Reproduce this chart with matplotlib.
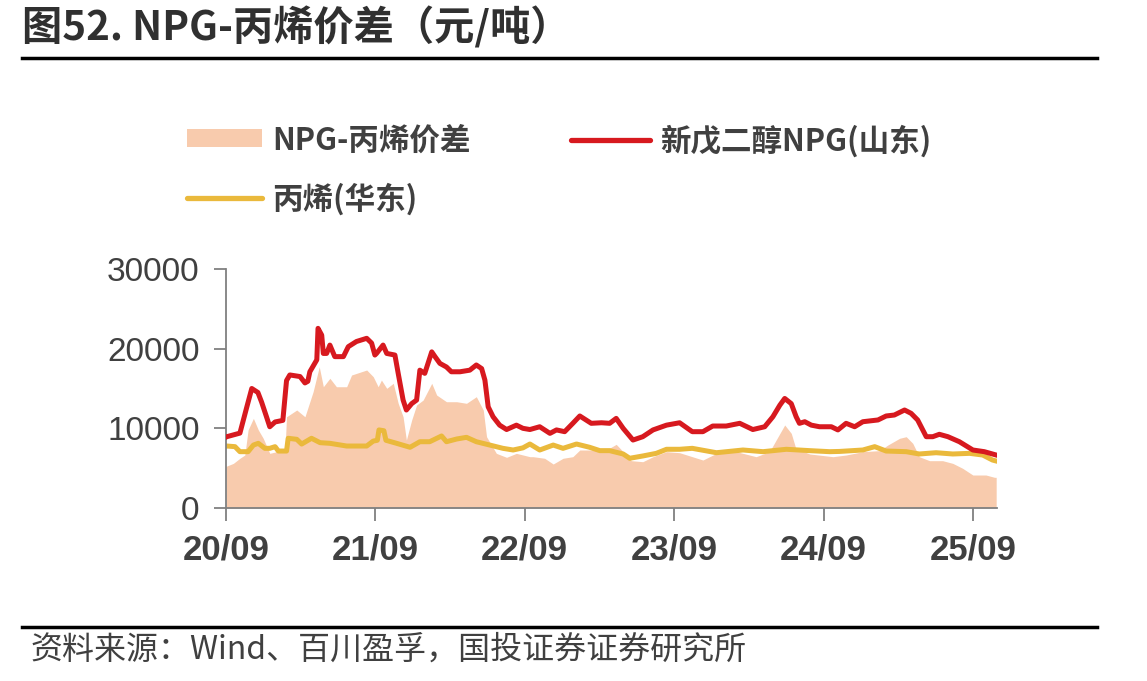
import numpy as np
import pandas as pd
import matplotlib
matplotlib.use("Agg")
import matplotlib.pyplot as plt
import matplotlib.dates as mdates
from matplotlib.patches import Rectangle
from matplotlib.lines import Line2D

plt.rcParams['font.family'] = ['Noto Sans CJK SC', 'DejaVu Sans']

# ---------------- data ----------------
npg_dates = ["2020-09-01", "2020-09-03", "2020-10-05", "2020-10-22", "2020-11-03", "2020-11-18", "2020-11-27",
             "2020-12-09", "2020-12-17", "2020-12-30", "2021-01-18", "2021-01-27", "2021-02-04",
             "2021-03-01", "2021-03-13", "2021-03-20", "2021-03-25", "2021-04-11", "2021-04-14",
             "2021-04-23", "2021-04-27", "2021-05-05", "2021-05-13", "2021-05-25", "2021-06-15",
             "2021-06-27", "2021-07-17", "2021-08-11", "2021-08-23", "2021-08-31", "2021-09-04",
             "2021-09-20", "2021-09-29", "2021-10-19", "2021-10-27", "2021-11-08", "2021-11-16",
             "2021-11-29", "2021-12-11", "2021-12-19", "2021-12-31", "2022-01-17", "2022-01-25",
             "2022-02-06", "2022-02-22", "2022-03-06", "2022-03-27", "2022-04-20", "2022-05-06",
             "2022-05-19", "2022-05-27", "2022-06-04", "2022-06-16", "2022-07-02", "2022-07-19",
             "2022-08-12", "2022-08-28", "2022-09-14", "2022-10-08", "2022-11-02", "2022-11-18",
             "2022-12-08", "2022-12-28", "2023-01-14", "2023-02-11", "2023-03-08", "2023-03-28",
             "2023-04-13", "2023-04-30", "2023-05-24", "2023-06-17", "2023-07-12", "2023-08-14",
             "2023-09-15", "2023-10-16", "2023-11-11", "2023-12-05", "2024-01-07", "2024-02-09",
             "2024-03-12", "2024-04-10", "2024-04-30", "2024-05-17", "2024-05-29", "2024-06-14",
             "2024-06-26", "2024-07-04", "2024-07-17", "2024-08-02", "2024-08-22", "2024-09-20",
             "2024-10-06", "2024-10-26", "2024-11-16", "2024-12-06", "2025-01-12", "2025-02-01",
             "2025-02-21", "2025-03-18", "2025-04-03", "2025-04-19", "2025-05-10", "2025-05-26",
             "2025-06-11", "2025-07-02", "2025-07-30", "2025-09-01", "2025-09-29", "2025-10-28"]
npg_price = [8900, 8950, 9400, 12700, 15000, 14500, 13300,
             11450, 10200, 10800, 11000, 16000, 16700,
             16500, 15700, 15900, 17100, 18600, 22550,
             21700, 19400, 19400, 20450, 19000, 19000,
             20250, 20900, 21300, 20700, 19200, 19400,
             20450, 19400, 19200, 16900, 13550, 12300,
             13100, 13550, 17300, 16900, 19600, 19000,
             18150, 17700, 17100, 17100, 17300, 17950,
             17500, 16050, 12700, 11450, 10400, 9850,
             10400, 10000, 9850, 10200, 9370, 9800,
             9580, 10630, 11550, 10630, 10700, 10630,
             11250, 10000, 8530, 8950, 9800, 10400,
             10700, 9580, 9580, 10290, 10290, 10630,
             9850, 10200, 11450, 12900, 13750, 13100,
             11450, 10630, 10830, 10400, 10200, 10200,
             9800, 10630, 10200, 10830, 11050, 11550,
             11670, 12300, 11880, 11050, 8950, 8950,
             9250, 8950, 8320, 7280, 7070, 6650]

pp_dates = ["2020-09-01", "2020-09-03", "2020-09-23", "2020-10-05", "2020-10-25", "2020-11-07", "2020-11-19",
            "2020-12-05", "2020-12-17", "2020-12-30", "2021-01-07", "2021-01-27", "2021-01-31",
            "2021-02-21", "2021-03-05", "2021-03-29", "2021-04-19", "2021-05-13", "2021-06-23",
            "2021-08-11", "2021-08-27", "2021-09-06", "2021-09-10", "2021-09-22", "2021-09-27",
            "2021-10-23", "2021-11-25", "2021-12-19", "2022-01-12", "2022-02-10", "2022-02-22",
            "2022-03-19", "2022-04-12", "2022-05-06", "2022-06-08", "2022-07-10", "2022-08-04",
            "2022-08-28", "2022-09-14", "2022-10-08", "2022-11-10", "2022-12-04", "2023-01-06",
            "2023-02-07", "2023-03-04", "2023-03-28", "2023-04-30", "2023-05-16", "2023-06-17",
            "2023-07-20", "2023-08-14", "2023-09-15", "2023-10-16", "2023-12-14", "2024-02-17",
            "2024-04-06", "2024-06-02", "2024-07-29", "2024-09-16", "2024-10-10", "2024-12-06",
            "2025-01-04", "2025-02-01", "2025-03-22", "2025-04-23", "2025-06-03", "2025-07-14",
            "2025-08-24", "2025-09-25", "2025-10-19", "2025-10-28"]
pp_price = [7750, 7780, 7700, 7070, 7070, 7900, 8120,
            7490, 7490, 7700, 7150, 7150, 8750,
            8620, 8030, 8750, 8200, 8120, 7780,
            7780, 8400, 8500, 9800, 9700, 8500,
            8120, 7620, 8320, 8320, 9040, 8320,
            8660, 8870, 8320, 7900, 7490, 7280,
            7550, 8030, 7280, 7900, 7490, 8030,
            7620, 7200, 7200, 6780, 6240, 6530,
            6860, 7370, 7370, 7490, 6940, 7280,
            7070, 7370, 7200, 7070, 7100, 7280,
            7700, 7150, 7070, 6780, 6940, 6780,
            6860, 6650, 6020, 5900]

spread_dates = ["2020-09-01", "2020-09-03", "2020-09-19", "2020-10-05", "2020-10-17", "2020-10-25", "2020-11-07",
                "2020-11-19", "2020-12-01", "2020-12-17", "2021-01-03", "2021-01-23", "2021-01-27",
                "2021-02-21", "2021-03-13", "2021-04-02", "2021-04-17", "2021-04-27", "2021-05-13",
                "2021-05-29", "2021-06-23", "2021-07-05", "2021-08-11", "2021-08-27", "2021-09-08",
                "2021-09-16", "2021-09-29", "2021-10-15", "2021-10-27", "2021-11-08", "2021-11-16",
                "2021-11-29", "2021-12-11", "2021-12-27", "2022-01-17", "2022-01-29", "2022-02-22",
                "2022-03-19", "2022-04-12", "2022-05-06", "2022-05-23", "2022-05-31", "2022-06-24",
                "2022-07-19", "2022-08-12", "2022-09-14", "2022-09-22", "2022-10-20", "2022-11-10",
                "2022-12-04", "2022-12-28", "2023-01-14", "2023-03-20", "2023-04-13", "2023-04-30",
                "2023-05-20", "2023-06-17", "2023-07-12", "2023-08-14", "2023-09-15", "2023-10-16",
                "2023-11-11", "2023-12-14", "2024-02-01", "2024-03-20", "2024-04-22", "2024-05-08",
                "2024-05-29", "2024-06-14", "2024-06-25", "2024-07-29", "2024-09-24", "2024-10-26",
                "2024-12-06", "2025-01-16", "2025-02-05", "2025-03-06", "2025-03-22", "2025-04-07",
                "2025-04-23", "2025-05-18", "2025-06-19", "2025-07-14", "2025-08-07", "2025-09-01",
                "2025-10-03", "2025-10-24", "2025-10-28"]
spread = [5200, 5270, 5600, 6240, 6650, 9800, 11250,
          9800, 8750, 6860, 7070, 7070, 11450,
          12300, 11450, 14600, 17730, 15220, 16280,
          15220, 15220, 16690, 17320, 16480, 15220,
          16060, 15020, 15650, 13140, 11450, 8530,
          11050, 12930, 13550, 15650, 14180, 13340,
          13340, 13140, 13970, 12300, 8950, 6860,
          6360, 6860, 6440, 6440, 6240, 5520,
          6240, 6440, 7280, 7280, 7990, 7070,
          5940, 5810, 6440, 7070, 6940, 6440,
          6020, 6860, 7070, 6440, 7070, 8530,
          10420, 9370, 7490, 6780, 6440, 6650,
          7070, 7200, 7900, 8750, 8950, 8120,
          6440, 5940, 5940, 5600, 4980, 4140,
          4140, 3850, 3850]

y_ticks = [0, 10000, 20000, 30000]
x_tick_dates = ["2020-09-01", "2021-09-01", "2022-09-01", "2023-09-01", "2024-09-01", "2025-09-01"]
x_tick_labels = ["20/09", "21/09", "22/09", "23/09", "24/09", "25/09"]

c_area = "#F8CBAD"
c_red = "#D7191F"
c_yel = "#EAB93C"
c_txt = "#404040"

# ---------------- figure ----------------
fig = plt.figure(figsize=(11.47, 6.81), dpi=100)
ax = fig.add_axes([226/1147, 1-508/681, (997-226)/1147, (508-269)/681])

ax.fill_between(pd.to_datetime(spread_dates), spread, 0, color=c_area, lw=0, zorder=1)
ax.plot(pd.to_datetime(pp_dates), pp_price, color=c_yel, lw=3.6, zorder=2)
ax.plot(pd.to_datetime(npg_dates), npg_price, color=c_red, lw=3.6, zorder=3)

ax.set_ylim(0, 30000)
ax.set_yticks(y_ticks)
ax.set_yticklabels([str(v) for v in y_ticks], fontsize=24, color=c_txt,
                   family=['Liberation Sans', 'DejaVu Sans'])
ax.set_xlim(pd.Timestamp("2020-09-01"), pd.Timestamp("2025-10-30"))
ax.set_xticks(pd.to_datetime(x_tick_dates))
ax.set_xticklabels(x_tick_labels, fontsize=25, color=c_txt, fontweight='bold',
                   family=['Liberation Sans', 'DejaVu Sans'])

for s in ['top', 'right']:
    ax.spines[s].set_visible(False)
for s in ['left', 'bottom']:
    ax.spines[s].set_color('#808080')
    ax.spines[s].set_linewidth(1.3)
ax.tick_params(axis='y', direction='out', length=9, width=1.3, color='#808080', pad=10)
ax.tick_params(axis='x', direction='out', length=9, width=1.3, color='#808080', pad=9)

# ---------------- title / lines / source ----------------
fig.text(22/1147, 1-28/681, "图52. NPG-丙烯价差（元/吨）", fontsize=29, fontweight='bold',
         color='#303030', va='center', ha='left')
fig.add_artist(Line2D([22/1147, 1097/1147], [1-58/681, 1-58/681], color='black', lw=2.5))
fig.add_artist(Line2D([22/1147, 1097/1147], [1-627/681, 1-627/681], color='black', lw=2.5))
fig.text(30/1147, 1-650/681, "资料来源：Wind、百川盈孚，国投证券证券研究所", fontsize=23,
         color=c_txt, va='center', ha='left', style='italic')

# ---------------- legend ----------------
fig.add_artist(Rectangle((187/1147, 1-147/681), 75/1147, 18/681, transform=fig.transFigure,
                         color=c_area, lw=0))
fig.text(272/1147, 1-141/681, "NPG-丙烯价差", fontsize=22, fontweight='bold', color=c_txt,
         va='center', ha='left')
fig.add_artist(Line2D([571/1147, 650/1147], [1-140/681, 1-140/681], color=c_red, lw=3.8,
                      solid_capstyle='round'))
fig.text(660/1147, 1-141/681, "新戊二醇NPG(山东)", fontsize=22, fontweight='bold', color=c_txt,
         va='center', ha='left')
fig.add_artist(Line2D([187/1147, 262/1147], [1-198/681, 1-198/681], color=c_yel, lw=3.8,
                      solid_capstyle='round'))
fig.text(272/1147, 1-199/681, "丙烯(华东)", fontsize=22, fontweight='bold', color=c_txt,
         va='center', ha='left')

fig.savefig("out.png", dpi=100)
